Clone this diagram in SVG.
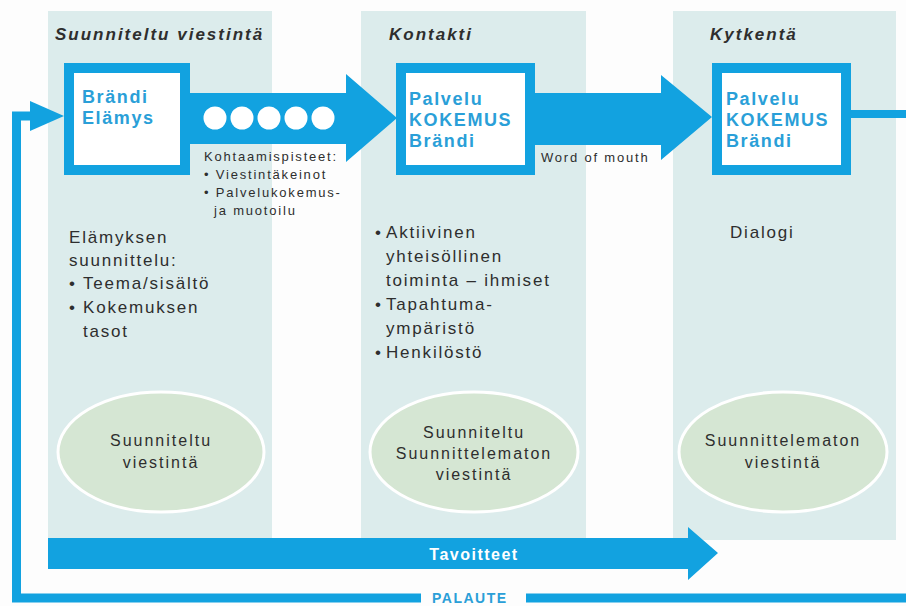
<svg xmlns="http://www.w3.org/2000/svg" width="906" height="606" viewBox="0 0 906 606">
<style>
.panel{fill:#dcecec}
.blue{fill:#12a2e0}
.box{fill:#ffffff;stroke:#12a2e0;stroke-width:10}
.ell{fill:#d5e6d3;stroke:#ffffff;stroke-width:3}
.title{font-family:"Liberation Sans",Arial,sans-serif;font-size:17px;font-weight:bold;font-style:italic;fill:#2e2e2e;letter-spacing:2px}
.bx{font-family:"Liberation Sans",Arial,sans-serif;font-size:18px;font-weight:bold;fill:#2a9fd8;letter-spacing:1.6px}
.sm{font-family:"Liberation Sans",Arial,sans-serif;font-size:13px;fill:#2e2e2e;letter-spacing:1.8px}
.body{font-family:"Liberation Sans",Arial,sans-serif;font-size:17px;fill:#2e2e2e;letter-spacing:1.8px}
.et{font-family:"Liberation Sans",Arial,sans-serif;font-size:16px;fill:#2e2e2e;letter-spacing:2px;text-anchor:middle}
.wt{font-family:"Liberation Sans",Arial,sans-serif;font-size:16px;font-weight:bold;fill:#ffffff;letter-spacing:1.5px;text-anchor:middle}
.pt{font-family:"Liberation Sans",Arial,sans-serif;font-size:14px;font-weight:bold;fill:#2a9fd8;letter-spacing:1.5px}
</style>
<rect width="906" height="606" fill="#fdfdfd"/>
<g id="panels">
<rect class="panel" x="48" y="11" width="224" height="527"/>
<rect class="panel" x="361" y="11" width="225" height="527"/>
<rect class="panel" x="673" y="11" width="223" height="529"/>
</g>
<g id="connectors">
<polygon class="blue" points="190,93 346,93 346,74 397,118 346,162 346,144 190,144"/>
<g fill="#ffffff">
<circle cx="215" cy="118" r="11.5"/>
<circle cx="242" cy="118" r="11.5"/>
<circle cx="269" cy="118" r="11.5"/>
<circle cx="296" cy="118" r="11.5"/>
<circle cx="323" cy="118" r="11.5"/>
</g>
<polygon class="blue" points="535,93 661,93 661,75 712,117 661,160 661,145 535,145"/>
<rect class="blue" x="851" y="110" width="55" height="8"/>
<polygon class="blue" points="48,538 688,538 688,527 718,553 688,580 688,569 48,569"/>
<path d="M906,598 H526 M421,598 H16.5 V116 H32" fill="none" stroke="#12a2e0" stroke-width="9"/>
<polygon class="blue" points="30,101 64,116 30,131"/>
</g>
<g id="col1">
<text class="title" x="55" y="40">Suunniteltu viestintä</text>
<g id="box1">
<rect class="box" x="69" y="68" width="116" height="102"/>
<text class="bx" x="82" y="103">Brändi</text>
<text class="bx" x="82" y="124">Elämys</text>
</g>
<g id="touchpoints">
<text class="sm" x="204" y="161">Kohtaamispisteet:</text>
<text class="sm" x="204" y="179">• Viestintäkeinot</text>
<text class="sm" x="204" y="197">• Palvelukokemus-</text>
<text class="sm" x="214" y="215">ja muotoilu</text>
</g>
<g id="text1">
<text class="body" x="69" y="243">Elämyksen</text>
<text class="body" x="69" y="266">suunnittelu:</text>
<text class="body" x="69" y="289">•</text>
<text class="body" x="83" y="289">Teema/sisältö</text>
<text class="body" x="69" y="313">•</text>
<text class="body" x="83" y="313">Kokemuksen</text>
<text class="body" x="83" y="337">tasot</text>
</g>
<g id="ellipse1">
<ellipse class="ell" cx="161" cy="452" rx="103" ry="60"/>
<text class="et" x="161" y="446">Suunniteltu</text>
<text class="et" x="161" y="468">viestintä</text>
</g>
</g>
<g id="col2">
<text class="title" x="389" y="40">Kontakti</text>
<g id="box2">
<rect class="box" x="401" y="68" width="129" height="102"/>
<text class="bx" x="409" y="105">Palvelu</text>
<text class="bx" x="409" y="126">KOKEMUS</text>
<text class="bx" x="409" y="147">Brändi</text>
</g>
<text class="sm" x="541" y="162">Word of mouth</text>
<g id="text2">
<text class="body" x="375" y="238">•</text>
<text class="body" x="386" y="238">Aktiivinen</text>
<text class="body" x="386" y="262">yhteisöllinen</text>
<text class="body" x="386" y="286">toiminta – ihmiset</text>
<text class="body" x="375" y="310">•</text>
<text class="body" x="386" y="310">Tapahtuma-</text>
<text class="body" x="386" y="334">ympäristö</text>
<text class="body" x="375" y="358">•</text>
<text class="body" x="386" y="358">Henkilöstö</text>
</g>
<g id="ellipse2">
<ellipse class="ell" cx="474" cy="452" rx="104" ry="60"/>
<text class="et" x="474" y="438">Suunniteltu</text>
<text class="et" x="474" y="459">Suunnittelematon</text>
<text class="et" x="474" y="480">viestintä</text>
</g>
</g>
<g id="col3">
<text class="title" x="710" y="40">Kytkentä</text>
<g id="box3">
<rect class="box" x="717" y="68" width="129" height="102"/>
<text class="bx" x="726" y="105">Palvelu</text>
<text class="bx" x="726" y="126">KOKEMUS</text>
<text class="bx" x="726" y="147">Brändi</text>
</g>
<text class="body" x="730" y="238">Dialogi</text>
<g id="ellipse3">
<ellipse class="ell" cx="783" cy="452" rx="104" ry="60"/>
<text class="et" x="783" y="446">Suunnittelematon</text>
<text class="et" x="783" y="468">viestintä</text>
</g>
</g>
<g id="goals">
<text class="wt" x="474" y="560">Tavoitteet</text>
</g>
<g id="feedback">
<text class="pt" x="432" y="603">PALAUTE</text>
</g>
</svg>
